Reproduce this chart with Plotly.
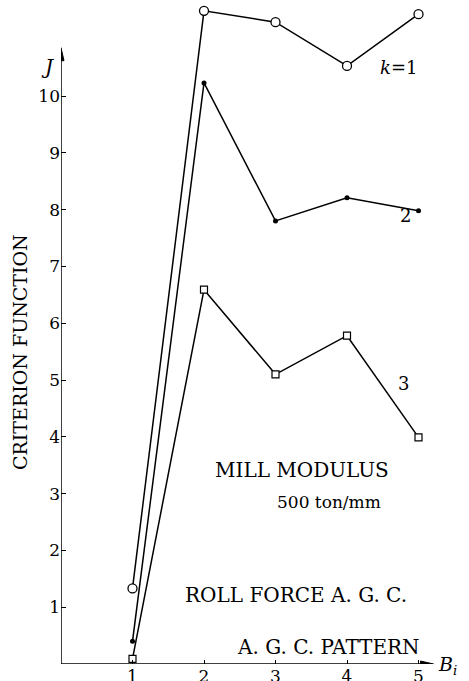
import plotly.graph_objects as go

# Data
B = [1, 2, 3, 4, 5]
J_k1 = [1.33, 11.50, 11.30, 10.53, 11.44]
J_k2 = [0.40, 10.23, 7.80, 8.21, 7.98]
J_k3 = [0.09, 6.59, 5.10, 5.78, 3.99]
x_ticks = [1, 2, 3, 4, 5]
y_ticks = [1, 2, 3, 4, 5, 6, 7, 8, 9, 10]

FONT = "DejaVu Serif"
W, H = 469, 681
ML, MR, MT, MB = 61, 8, 4, 17
XMAX = (W - ML - MR) / 71.5
YMAX = (H - MT - MB) / 56.8

fig = go.Figure()

fig.add_trace(go.Scatter(
    x=B, y=J_k1, mode="lines+markers", cliponaxis=False,
    line=dict(color="black", width=1.5),
    marker=dict(symbol="circle", size=9, color="white",
                line=dict(color="black", width=1.3)),
    showlegend=False))
fig.add_trace(go.Scatter(
    x=B, y=J_k2, mode="lines+markers", cliponaxis=False,
    line=dict(color="black", width=1.5),
    marker=dict(symbol="circle", size=5, color="black"),
    showlegend=False))
fig.add_trace(go.Scatter(
    x=B, y=J_k3, mode="lines+markers", cliponaxis=False,
    line=dict(color="black", width=1.5),
    marker=dict(symbol="square", size=7, color="white",
                line=dict(color="black", width=1.2)),
    showlegend=False))

Y_TIP = 10.85
X_TIP = 5.21

# axis lines
fig.add_shape(type="line", xref="x", yref="y", x0=0, y0=0, x1=0, y1=Y_TIP - 0.1,
              line=dict(color="black", width=1.5))
fig.add_shape(type="line", xref="x", yref="y", x0=0, y0=0, x1=X_TIP - 0.08, y1=0,
              line=dict(color="black", width=1.5))

# arrow heads (pixel-sized paths anchored at the axis tips)
fig.add_shape(type="path", xref="x", yref="y", xsizemode="pixel", ysizemode="pixel",
              xanchor=0, yanchor=Y_TIP, path="M -3,-13 L 0,0 L 3,-13 Z",
              fillcolor="black", line=dict(color="black", width=1))
fig.add_shape(type="path", xref="x", yref="y", xsizemode="pixel", ysizemode="pixel",
              xanchor=X_TIP, yanchor=0, path="M -13,-3 L 0,0 L -13,3 Z",
              fillcolor="black", line=dict(color="black", width=1))

def px(xp, yp):
    # convert pixel position to paper coords
    return (xp - ML) / (W - ML - MR), (H - MB - yp) / (H - MT - MB)

def put(xp, yp, s, size, angle=0):
    x, y = px(xp, yp)
    fig.add_annotation(x=x, y=y, xref="paper", yref="paper", text=s,
                       showarrow=False, xanchor="center", yanchor="middle",
                       textangle=angle,
                       font=dict(family=FONT, size=size, color="black"))

put(47, 67, "<i>J</i>", 20)
put(398, 67, "<i>k</i>=1", 18)
put(405, 216, "2", 18)
put(403, 384, "3", 18)
put(302, 470, "MILL MODULUS", 20)
put(329, 502, "500 ton/mm", 17)
put(296, 595, "ROLL FORCE A. G. C.", 20)
put(328, 647, "A. G. C. PATTERN", 20)
put(447, 666, "<i>B<sub>i</sub></i>", 19)
put(20, 352, "CRITERION FUNCTION", 19, -90)

fig.update_layout(
    width=W, height=H,
    margin=dict(l=ML, r=MR, t=MT, b=MB, autoexpand=False),
    paper_bgcolor="white", plot_bgcolor="white",
    xaxis=dict(range=[0, XMAX], showgrid=False, zeroline=False, showline=False,
               tickvals=x_ticks, ticktext=[str(v) for v in x_ticks],
               ticks="inside", ticklen=4, tickwidth=1.2, tickcolor="black",
               tickfont=dict(family=FONT, size=17, color="black"),
               automargin=False, fixedrange=True),
    yaxis=dict(range=[0, YMAX], showgrid=False, zeroline=False, showline=False,
               tickvals=y_ticks, ticktext=[str(v) for v in y_ticks],
               ticks="inside", ticklen=5, tickwidth=1.2, tickcolor="black",
               tickfont=dict(family=FONT, size=17, color="black"),
               automargin=False, fixedrange=True),
    font=dict(family=FONT, color="black"),
)

fig.write_html("out.html", config={"displayModeBar": False})
